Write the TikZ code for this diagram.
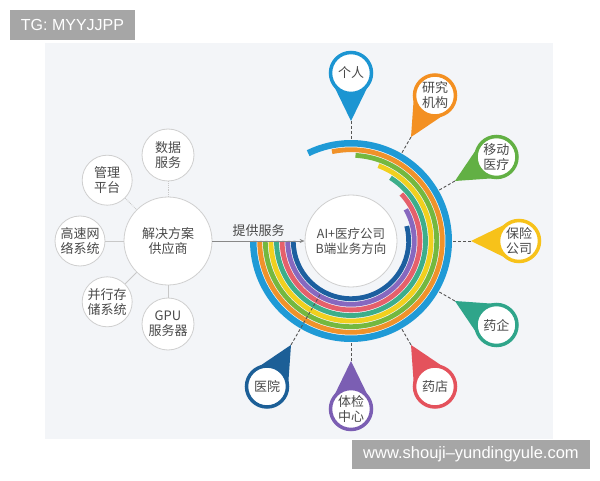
\documentclass[tikz,border=0pt]{standalone}
\usepackage{fontspec}
\setmainfont{Noto Sans CJK SC}
\newfontfamily\tagfont{Liberation Sans}
\usepackage{tikz}
\usetikzlibrary{calc, positioning, arrows.meta}

\definecolor{panelgray}{HTML}{F3F5F8}
\definecolor{tagfill}{HTML}{A6A6A6}
\definecolor{circgray}{HTML}{CFCFCF}
\definecolor{linkgray}{HTML}{C8C8C8}
\definecolor{textgray}{HTML}{4A4A4A}
\definecolor{dashgray}{HTML}{555555}
\definecolor{ringblue}{HTML}{1F9AD6}
\definecolor{ringorange}{HTML}{F0922A}
\definecolor{ringgreen}{HTML}{74B83F}
\definecolor{ringyellow}{HTML}{F1D01E}
\definecolor{ringteal}{HTML}{3DAE8A}
\definecolor{ringcoral}{HTML}{E5606B}
\definecolor{ringpurple}{HTML}{8768BF}
\definecolor{ringnavy}{HTML}{1C5F9F}
\definecolor{pinblue}{HTML}{1C95D2}
\definecolor{pinorange}{HTML}{F39022}
\definecolor{pingreen}{HTML}{62B044}
\definecolor{pinyellow}{HTML}{F7C21A}
\definecolor{pinteal}{HTML}{2FA58A}
\definecolor{pinred}{HTML}{E4525C}
\definecolor{pinpurple}{HTML}{7B5EB3}
\definecolor{pinnavy}{HTML}{1C5F97}

\tikzset{
  bubble/.style={circle, draw=circgray, line width=0.8pt, fill=white, inner sep=0pt,
    align=center, text=textgray, font=\fontsize{13}{15}\selectfont},
  pinbox/.style={circle, line width=3.5pt, fill=white, minimum size=41pt, inner sep=0pt,
    align=center, text=textgray, font=\fontsize{13}{15}\selectfont},
  dashline/.style={draw=dashgray, line width=0.9pt, dash pattern=on 3pt off 2pt},
  tagbox/.style={fill=tagfill, text=white, inner sep=0pt, font=\tagfont\fontsize{16}{18}\selectfont}
}

\begin{document}
\begin{tikzpicture}[x=1pt, y=1pt]
\useasboundingbox (0,0) rectangle (600,480);
\fill[panelgray] (45,41) rectangle (553,437);
\node[tagbox, minimum width=125pt, minimum height=30pt] (tg) at (72.5,455) {TG: MYYJJPP};
\node[tagbox, minimum width=238pt, minimum height=29pt, font=\tagfont\fontsize{16.5}{18}\selectfont] (www) at (471,25.5) {www.shouji–yundingyule.com};

\node[bubble, minimum size=88pt] (hub) at (168,239) {解决方案\\供应商};
\node[bubble, minimum size=52pt] (data) at ($(hub)+(90:86)$) {数据\\服务};
\node[bubble, minimum size=50pt] (mgmt) at ($(hub)+(135:86)$) {管理\\平台};
\node[bubble, minimum size=50pt] (net) at ($(hub)+(180:88)$) {高速网\\络系统};
\node[bubble, minimum size=50pt] (store) at ($(hub)+(225:86)$) {并行存\\储系统};
\node[bubble, minimum size=52pt] (gpu) at ($(hub)+(270:83)$) {GPU\\服务器};
\draw[linkgray, densely dotted, line width=0.8pt] (data) -- (hub);
\draw[linkgray, densely dotted, line width=0.8pt] (mgmt) -- (hub);
\draw[linkgray, line width=0.8pt] (net) -- (hub);
\draw[linkgray, line width=0.8pt] (store) -- (hub);
\draw[linkgray, line width=0.8pt] (gpu) -- (hub);

\coordinate (rc) at (351,239);
\foreach \r/\w/\e/\col in {97.75/6.5pt/476/ringblue, 91.3/4.8pt/462/ringorange,
    85.7/4.8pt/447/ringgreen, 80.1/4.8pt/430/ringyellow, 74.5/4.8pt/418/ringteal,
    68.9/4.8pt/403/ringcoral, 63.3/4.8pt/390/ringpurple, 57.7/4.8pt/375/ringnavy}
  \draw[\col, line width=\w] ($(rc)+(180:\r)$) arc[start angle=180, end angle=\e, radius=\r];

\node[bubble, minimum size=92pt, font=\fontsize{12.5}{15}\selectfont] (ai) at (rc) {AI+医疗公司\\B端业务方向};
\draw[dashgray!70, line width=0.8pt, -{Stealth[length=5pt, width=4pt]}] (hub) -- node[above=1pt, text=textgray, font=\fontsize{13}{15}\selectfont] (give) {提供服务} (ai);

\foreach \a/\col/\nm/\d/\txt in {90/pinblue/geren/101/{个人}, 60/pinorange/yanjiu/101/{研究\\机构},
    30/pingreen/yidong/101/{移动\\医疗}, 0/pinyellow/baoxian/101/{保险\\公司},
    -30/pinteal/yaoqi/101/{药企}, -60/pinred/yaodian/101/{药店},
    -90/pinpurple/tijian/101/{体检\\中心}, -120/pinnavy/yiyuan/62/{医院}}{
  \pgfmathsetmacro\lside{\a+116}
  \pgfmathsetmacro\rside{\a+244}
  \coordinate (\nm-c) at ($(rc)+(\a:168)$);
  \coordinate (\nm-tip) at ($(rc)+(\a:120)$);
  \coordinate (\nm-ring) at ($(rc)+(\a:\d)$);
  \fill[\col] (\nm-tip) -- ($(\nm-c)+(\lside:21)$) -- ($(\nm-c)+(\rside:21)$) -- cycle;
  \node[pinbox, draw=\col] (\nm) at (\nm-c) {\txt};
  \draw[dashline] (\nm-tip) -- (\nm-ring);
}
\end{tikzpicture}
\end{document}
